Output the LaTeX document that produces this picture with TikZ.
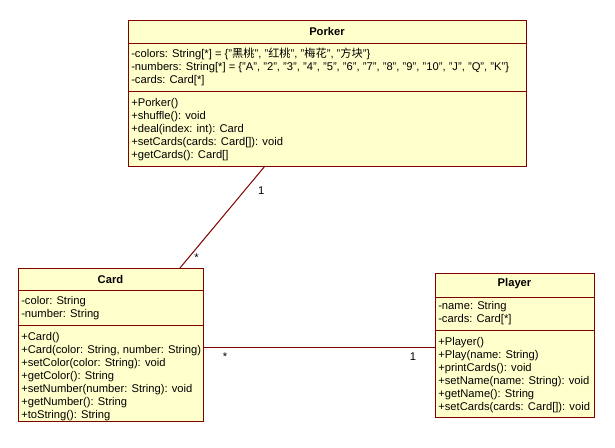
\documentclass[tikz,border=0pt]{standalone}
\usepackage{fontspec}
\setmainfont{Liberation Sans}
\newfontfamily\cjk{Noto Sans CJK SC}
\usetikzlibrary{arrows,shapes}
\definecolor{umlfill}{RGB}{255,255,204}
\definecolor{umlline}{RGB}{128,0,0}
\tikzset{
  classbox/.style={draw=umlline,fill=umlfill,line width=0.75pt,inner sep=0pt,outer sep=0pt,anchor=north west},
  divider/.style={draw=umlline,line width=0.75pt},
  classname/.style={inner sep=0pt,font=\fontsize{8.4}{10}\selectfont\bfseries},
  members/.style={anchor=north west,align=left,inner sep=0pt,font=\fontsize{8.4}{9.75}\selectfont},
  mult/.style={inner sep=0pt,font=\fontsize{8.4}{10}\selectfont}
}

\begin{document}
\begin{tikzpicture}[x=0.75pt,y=-0.75pt]
\useasboundingbox (0,0) rectangle (615,447);
% Porker
\node[classbox,minimum width=298.5pt,minimum height=109.5pt](porker)at(128, 20){};
\draw[divider] (porker.north west) ++(0,23) -- ++(398,0);
\draw[divider] (porker.north west) ++(0,71) -- ++(398,0);
\node[classname](porker-title)at(327, 31.5){Porker};
\node[members](porker-attrs)at(131, 48){-colors: String[*] = \{"{\cjk 黑桃}", "{\cjk 红桃}", "{\cjk 梅花}", "{\cjk 方块}"\}\\
-numbers: String[*] = \{"A", "2", "3", "4", "5", "6", "7", "8", "9", "10", "J", "Q", "K"\}\\
-cards: Card[*]};
\node[members](porker-ops)at(131, 98){+Porker()\\+shuffle(): void\\+deal(index: int): Card\\+setCards(cards: Card[]): void\\+getCards(): Card[]};
% Card
\node[classbox,minimum width=138.75pt,minimum height=114.75pt](card)at(18, 268){};
\draw[divider] (card.north west) ++(0,22) -- ++(185,0);
\draw[divider] (card.north west) ++(0,57) -- ++(185,0);
\node[classname](card-title)at(110.5, 279){Card};
\node[members](card-attrs)at(21, 296){-color: String\\-number: String};
\node[members](card-ops)at(21, 332){+Card()\\+Card(color: String, number: String)\\+setColor(color: String): void\\+getColor(): String\\+setNumber(number: String): void\\+getNumber(): String\\+toString(): String};
% Player
\node[classbox,minimum width=119.25pt,minimum height=108pt](player)at(435, 273){};
\draw[divider] (player.north west) ++(0,24) -- ++(159,0);
\draw[divider] (player.north west) ++(0,57) -- ++(159,0);
\node[classname](player-title)at(514.5, 284){Player};
\node[members](player-attrs)at(438, 301){-name: String\\-cards: Card[*]};
\node[members](player-ops)at(438, 337){+Player()\\+Play(name: String)\\+printCards(): void\\+setName(name: String): void\\+getName(): String\\+setCards(cards: Card[]): void};
% associations
\draw[divider] ([xshift=-46.5pt]porker.south) -- ([xshift=52.1pt]card.north)
  node[mult,pos=.245,right=10pt]{1}
  node[mult,pos=.9,right=4pt]{*};
\draw[divider] ([yshift=-2.6pt]card.east) -- ([yshift=-2.6pt]card.east -| player.west)
  node[mult,pos=.095,below=3pt]{*}
  node[mult,pos=.905,below=3pt]{1};
\end{tikzpicture}
\end{document}
